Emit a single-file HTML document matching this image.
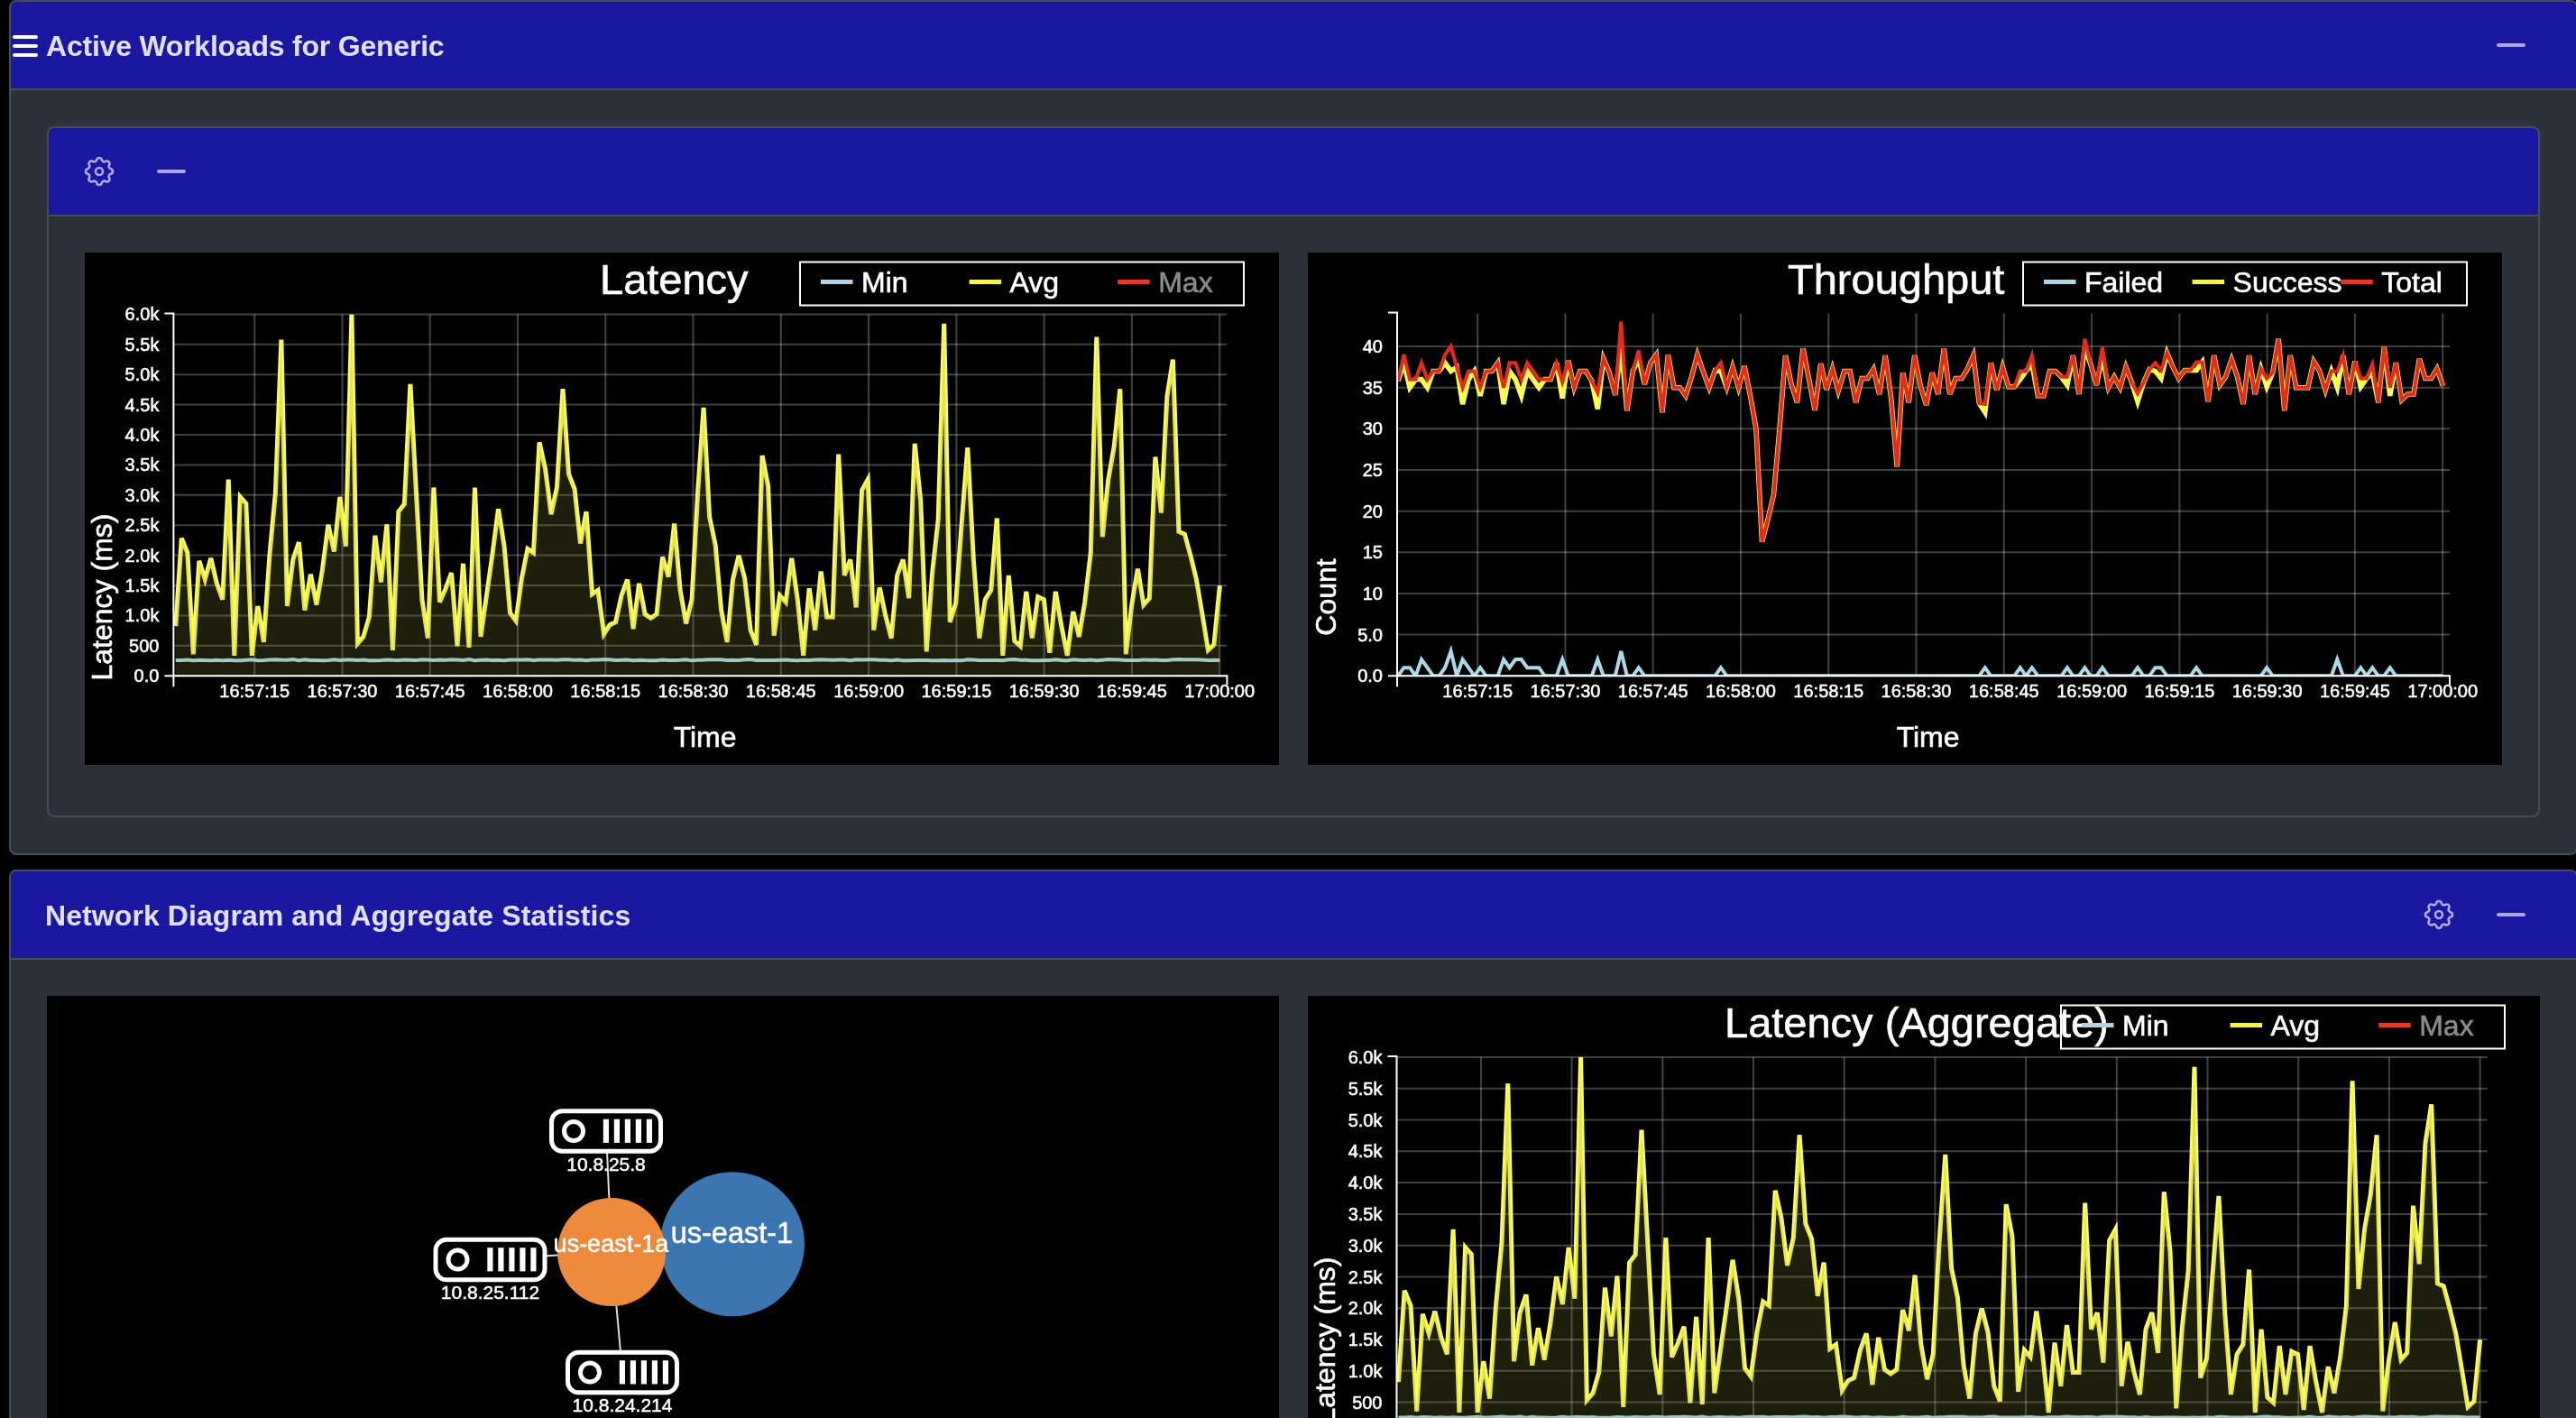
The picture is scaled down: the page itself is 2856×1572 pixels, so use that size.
<!DOCTYPE html>
<html><head><meta charset="utf-8"><style>
html,body{margin:0;padding:0;background:#000;width:2856px;height:1572px;overflow:hidden;font-family:"Liberation Sans",sans-serif}
#root{position:absolute;left:0;top:0;width:2856px;height:1572px;will-change:transform}
.abs{position:absolute}
.card{position:absolute;box-sizing:border-box;border:2px solid #454d58;border-radius:8px;background:#2c313a;overflow:hidden}
.hdr{position:absolute;left:0;right:0;top:0;height:98px;box-sizing:border-box;background:#1a18a0;border-bottom:2px solid #454d58}
.ttl{position:absolute;color:#e1dff6;font-weight:bold;font-size:32px;line-height:32px;white-space:nowrap}
.panel{position:absolute;overflow:hidden;background:#000}
</style></head><body><div id="root">
<div class="card" style="left:10px;top:0;width:2848px;height:948px">
  <div class="hdr"></div>
</div>
<div class="abs" style="left:14px;top:39px;width:28px;height:4px;border-radius:2px;background:#fff"></div>
<div class="abs" style="left:14px;top:49px;width:28px;height:4px;border-radius:2px;background:#fff"></div>
<div class="abs" style="left:14px;top:59px;width:28px;height:4px;border-radius:2px;background:#fff"></div>
<div class="ttl" style="left:51px;top:35px;letter-spacing:-0.22px">Active Workloads for Generic</div>
<div style="position:absolute;left:2768px;top:48px;width:32px;height:4px;border-radius:2px;background:#a9a7e2"></div>
<div class="card" style="left:52px;top:140px;width:2764px;height:766px">
  <div class="hdr"></div>
</div>
<svg style="position:absolute;left:90px;top:170px" width="40" height="40" viewBox="0 0 24 24"><path d="M10.325 4.317c.426-1.756 2.924-1.756 3.35 0a1.724 1.724 0 002.573 1.066c1.543-.94 3.31.826 2.37 2.37a1.724 1.724 0 001.065 2.572c1.756.426 1.756 2.924 0 3.35a1.724 1.724 0 00-1.066 2.573c.94 1.543-.826 3.31-2.37 2.37a1.724 1.724 0 00-2.572 1.065c-.426 1.756-2.924 1.756-3.35 0a1.724 1.724 0 00-2.573-1.066c-1.543.94-3.31-.826-2.37-2.37a1.724 1.724 0 00-1.065-2.572c-1.756-.426-1.756-2.924 0-3.35a1.724 1.724 0 001.066-2.573c-.94-1.543.826-3.31 2.37-2.37.996.608 2.296.07 2.572-1.065z" fill="none" stroke="#aeacde" stroke-width="1.55" stroke-linecap="round" stroke-linejoin="round"/><circle cx="12" cy="12" r="2.4" fill="none" stroke="#aeacde" stroke-width="1.55"/></svg>
<div style="position:absolute;left:174px;top:188px;width:32px;height:4px;border-radius:2px;background:#a9a7e2"></div>
<div class="panel" style="left:94px;top:280px;width:1324px;height:568px"><svg width="1324" height="568" viewBox="0 0 1324 568" style="position:absolute;left:0;top:0;display:block"><rect x="0" y="0" width="1324" height="568" fill="#000"/><g stroke="rgba(255,255,255,0.25)" stroke-width="2" fill="none"><path d="M98.4,469.2H1266.4"/><path d="M98.4,435.8H1266.4"/><path d="M98.4,402.4H1266.4"/><path d="M98.4,369H1266.4"/><path d="M98.4,335.6H1266.4"/><path d="M98.4,302.2H1266.4"/><path d="M98.4,268.8H1266.4"/><path d="M98.4,235.4H1266.4"/><path d="M98.4,202H1266.4"/><path d="M98.4,168.6H1266.4"/><path d="M98.4,135.2H1266.4"/><path d="M98.4,101.8H1266.4"/><path d="M98.4,68.4H1266.4"/><path d="M188.2,68.4V469.2"/><path d="M285.5,68.4V469.2"/><path d="M382.7,68.4V469.2"/><path d="M480,68.4V469.2"/><path d="M577.3,68.4V469.2"/><path d="M674.5,68.4V469.2"/><path d="M771.8,68.4V469.2"/><path d="M869.1,68.4V469.2"/><path d="M966.4,68.4V469.2"/><path d="M1063.6,68.4V469.2"/><path d="M1160.9,68.4V469.2"/><path d="M1258.2,68.4V469.2"/></g><clipPath id="clipLatency"><rect x="98.4" y="68.4" width="1168" height="400.8"/></clipPath><g clip-path="url(#clipLatency)"><path d="M100.8,451.9 L107.3,452.1 L113.8,451.5 L120.3,452.2 L126.8,451.7 L133.3,451.9 L139.8,452.2 L146.3,451.7 L152.8,452.3 L159.3,451.8 L165.8,452.2 L172.3,452.2 L178.8,451.8 L185.3,451.3 L191.8,452.2 L198.4,452 L204.9,451.5 L211.4,451.2 L217.9,451.6 L224.4,451.8 L230.9,451.1 L237.4,452.2 L243.9,451.3 L250.4,452 L256.9,452.1 L263.4,452.2 L269.9,451.9 L276.4,451.3 L282.9,452.1 L289.4,451.6 L295.9,451.5 L302.4,451.9 L308.9,451.6 L315.4,452.2 L321.9,452.2 L328.4,452.1 L334.9,451.5 L341.4,451.8 L347.9,451.9 L354.4,451.6 L360.9,451.8 L367.4,451.9 L373.9,451.3 L380.4,451.5 L386.9,452 L393.5,451.6 L400,451.7 L406.5,451.2 L413,451.4 L419.5,452 L426,451.1 L432.5,452.2 L439,451.8 L445.5,451.4 L452,452.1 L458.5,451.7 L465,452.3 L471.5,451.5 L478,451.4 L484.5,451.6 L491,451.2 L497.5,451.9 L504,451.5 L510.5,451.6 L517,451.6 L523.5,451.8 L530,451.3 L536.5,451.2 L543,451.7 L549.5,451.5 L556,452.2 L562.5,451.5 L569,451.5 L575.5,451.1 L582,451.3 L588.6,452 L595.1,451.8 L601.6,451.5 L608.1,452.3 L614.6,451.7 L621.1,452.1 L627.6,452.2 L634.1,452.2 L640.6,451.4 L647.1,452.1 L653.6,452 L660.1,451.8 L666.6,451.3 L673.1,452.2 L679.6,451.8 L686.1,451.6 L692.6,451.2 L699.1,451.3 L705.6,451.3 L712.1,452 L718.6,451.8 L725.1,451.9 L731.6,451.2 L738.1,451.1 L744.6,452.1 L751.1,452.1 L757.6,452 L764.1,452 L770.6,451.7 L777.2,451.6 L783.7,452 L790.2,452.3 L796.7,451.8 L803.2,451.9 L809.7,451.6 L816.2,451.2 L822.7,451.5 L829.2,451.7 L835.7,451.6 L842.2,451.5 L848.7,452.2 L855.2,451.2 L861.7,451.4 L868.2,451.2 L874.7,451.3 L881.2,451.8 L887.7,451.8 L894.2,452.2 L900.7,451.5 L907.2,452.2 L913.7,452.2 L920.2,452 L926.7,452.1 L933.2,451.9 L939.7,452.2 L946.2,452.3 L952.7,452.1 L959.2,452.2 L965.7,451.9 L972.3,452.3 L978.8,451.2 L985.3,451.6 L991.8,452.1 L998.3,452 L1004.8,451.9 L1011.3,451.9 L1017.8,452.2 L1024.3,451.3 L1030.8,451.1 L1037.3,451.7 L1043.8,451.7 L1050.3,452.2 L1056.8,452.2 L1063.3,451.9 L1069.8,452 L1076.3,451.3 L1082.8,452.1 L1089.3,452.3 L1095.8,451.2 L1102.3,451.7 L1108.8,452.1 L1115.3,451.6 L1121.8,452.3 L1128.3,451.7 L1134.8,451.1 L1141.3,451.3 L1147.8,451.5 L1154.3,452 L1160.8,451.9 L1167.4,452.1 L1173.9,451.4 L1180.4,451.7 L1186.9,451.4 L1193.4,451.9 L1199.9,452 L1206.4,451.3 L1212.9,451.1 L1219.4,451.3 L1225.9,451.3 L1232.4,451.3 L1238.9,451.4 L1245.4,452 L1251.9,451.7 L1258.4,451.9" stroke="#add8e6" stroke-width="4" fill="none" stroke-linejoin="miter" stroke-miterlimit="4"/><path d="M100.8,414.2 L107.3,316.7 L113.8,332.9 L120.3,445.3 L126.8,341.8 L133.3,362.5 L139.8,338.9 L146.3,366.9 L152.8,384.7 L159.3,251.6 L165.8,446.8 L172.3,270.9 L178.8,278.3 L185.3,446.8 L191.8,392 L198.4,431.9 L204.9,335.6 L211.4,266.5 L217.9,96.5 L224.4,392 L230.9,340.3 L237.4,321.1 L243.9,396.5 L250.4,356.6 L256.9,390.6 L263.4,352.2 L269.9,301.9 L276.4,331.5 L282.9,270.9 L289.4,325.6 L295.9,68.4 L302.4,433.5 L308.9,426 L315.4,403.9 L321.9,313.8 L328.4,365.5 L334.9,301.3 L341.4,440.8 L347.9,287.1 L354.4,278.8 L360.9,145.8 L367.4,265.3 L373.9,384.7 L380.4,427.5 L386.9,260.5 L393.5,387.6 L400,372.9 L406.5,355.1 L413,436.4 L419.5,344.8 L426,437.9 L432.5,260.5 L439,426 L445.5,380.2 L452,334.4 L458.5,284.2 L465,325.6 L471.5,399.5 L478,408.3 L484.5,361.1 L491,328.5 L497.5,332.9 L504,210.3 L510.5,239.8 L517,290.1 L523.5,260.5 L530,151.2 L536.5,245.8 L543,262 L549.5,322.6 L556,287.1 L562.5,378.8 L569,374.3 L575.5,423.1 L582,412.8 L588.6,409.8 L595.1,380.2 L601.6,362.5 L608.1,417.2 L614.6,366.9 L621.1,400.9 L627.6,405.3 L634.1,400.9 L640.6,337.4 L647.1,359.5 L653.6,300.4 L660.1,374.3 L666.6,411.3 L673.1,384.7 L679.6,266.5 L686.1,171.9 L692.6,293 L699.1,324 L705.6,396.5 L712.1,431.9 L718.6,362.5 L725.1,335.9 L731.6,361.1 L738.1,418.6 L744.6,434.9 L751.1,225 L757.6,259 L764.1,424.6 L770.6,380.2 L777.2,387.6 L783.7,338.9 L790.2,384.7 L796.7,446.8 L803.2,372.3 L809.7,418.6 L816.2,353.6 L822.7,403.9 L829.2,403.9 L835.7,223.6 L842.2,358 L848.7,340.3 L855.2,393.5 L861.7,263.5 L868.2,251.6 L874.7,418.6 L881.2,371.3 L887.7,402.4 L894.2,427.5 L900.7,358 L907.2,340.3 L913.7,383.2 L920.2,211.8 L926.7,275.3 L933.2,442.3 L939.7,355.1 L946.2,296 L952.7,78.8 L959.2,409.8 L965.7,389.1 L972.3,298.9 L978.8,216.2 L985.3,340.3 L991.8,427.5 L998.3,384.7 L1004.8,374.3 L1011.3,294.5 L1017.8,446.8 L1024.3,358 L1030.8,430.5 L1037.3,436.4 L1043.8,375.8 L1050.3,427.5 L1056.8,381.7 L1063.3,384.7 L1069.8,443.7 L1076.3,375.8 L1082.8,414.2 L1089.3,446.8 L1095.8,398 L1102.3,426 L1108.8,387.6 L1115.3,332.9 L1121.8,93.5 L1128.3,315.2 L1134.8,251.6 L1141.3,214.7 L1147.8,151.2 L1154.3,445.3 L1160.8,390.6 L1167.4,350.7 L1173.9,390.6 L1180.4,383.2 L1186.9,226.5 L1193.4,288.6 L1199.9,160 L1206.4,118.6 L1212.9,309.3 L1219.4,312.2 L1225.9,335.9 L1232.4,362.5 L1238.9,400.9 L1245.4,440.8 L1251.9,434.9 L1258.4,369.3" stroke="#fdfd58" stroke-width="5" fill="none" stroke-linejoin="miter" stroke-miterlimit="4"/><path d="M100.8,414.2 L107.3,316.7 L113.8,332.9 L120.3,445.3 L126.8,341.8 L133.3,362.5 L139.8,338.9 L146.3,366.9 L152.8,384.7 L159.3,251.6 L165.8,446.8 L172.3,270.9 L178.8,278.3 L185.3,446.8 L191.8,392 L198.4,431.9 L204.9,335.6 L211.4,266.5 L217.9,96.5 L224.4,392 L230.9,340.3 L237.4,321.1 L243.9,396.5 L250.4,356.6 L256.9,390.6 L263.4,352.2 L269.9,301.9 L276.4,331.5 L282.9,270.9 L289.4,325.6 L295.9,68.4 L302.4,433.5 L308.9,426 L315.4,403.9 L321.9,313.8 L328.4,365.5 L334.9,301.3 L341.4,440.8 L347.9,287.1 L354.4,278.8 L360.9,145.8 L367.4,265.3 L373.9,384.7 L380.4,427.5 L386.9,260.5 L393.5,387.6 L400,372.9 L406.5,355.1 L413,436.4 L419.5,344.8 L426,437.9 L432.5,260.5 L439,426 L445.5,380.2 L452,334.4 L458.5,284.2 L465,325.6 L471.5,399.5 L478,408.3 L484.5,361.1 L491,328.5 L497.5,332.9 L504,210.3 L510.5,239.8 L517,290.1 L523.5,260.5 L530,151.2 L536.5,245.8 L543,262 L549.5,322.6 L556,287.1 L562.5,378.8 L569,374.3 L575.5,423.1 L582,412.8 L588.6,409.8 L595.1,380.2 L601.6,362.5 L608.1,417.2 L614.6,366.9 L621.1,400.9 L627.6,405.3 L634.1,400.9 L640.6,337.4 L647.1,359.5 L653.6,300.4 L660.1,374.3 L666.6,411.3 L673.1,384.7 L679.6,266.5 L686.1,171.9 L692.6,293 L699.1,324 L705.6,396.5 L712.1,431.9 L718.6,362.5 L725.1,335.9 L731.6,361.1 L738.1,418.6 L744.6,434.9 L751.1,225 L757.6,259 L764.1,424.6 L770.6,380.2 L777.2,387.6 L783.7,338.9 L790.2,384.7 L796.7,446.8 L803.2,372.3 L809.7,418.6 L816.2,353.6 L822.7,403.9 L829.2,403.9 L835.7,223.6 L842.2,358 L848.7,340.3 L855.2,393.5 L861.7,263.5 L868.2,251.6 L874.7,418.6 L881.2,371.3 L887.7,402.4 L894.2,427.5 L900.7,358 L907.2,340.3 L913.7,383.2 L920.2,211.8 L926.7,275.3 L933.2,442.3 L939.7,355.1 L946.2,296 L952.7,78.8 L959.2,409.8 L965.7,389.1 L972.3,298.9 L978.8,216.2 L985.3,340.3 L991.8,427.5 L998.3,384.7 L1004.8,374.3 L1011.3,294.5 L1017.8,446.8 L1024.3,358 L1030.8,430.5 L1037.3,436.4 L1043.8,375.8 L1050.3,427.5 L1056.8,381.7 L1063.3,384.7 L1069.8,443.7 L1076.3,375.8 L1082.8,414.2 L1089.3,446.8 L1095.8,398 L1102.3,426 L1108.8,387.6 L1115.3,332.9 L1121.8,93.5 L1128.3,315.2 L1134.8,251.6 L1141.3,214.7 L1147.8,151.2 L1154.3,445.3 L1160.8,390.6 L1167.4,350.7 L1173.9,390.6 L1180.4,383.2 L1186.9,226.5 L1193.4,288.6 L1199.9,160 L1206.4,118.6 L1212.9,309.3 L1219.4,312.2 L1225.9,335.9 L1232.4,362.5 L1238.9,400.9 L1245.4,440.8 L1251.9,434.9 L1258.4,369.3 L1258.4,469.2 L100.8,469.2 Z" fill="rgba(139,139,60,0.216)" stroke="none"/></g><path d="M88.4,67.4H98.4V469.2H1266.4V479.2" stroke="#fff" stroke-width="2" fill="none"/><path d="M98.4,469.2V481.2M88.4,469.2H98.4" stroke="#fff" stroke-width="2" fill="none"/><g fill="#fff" stroke="#fff" stroke-width="0.55" font-family="Liberation Sans" font-size="20"><text x="82.4" y="476.2" text-anchor="end">0.0</text><text x="82.4" y="442.8" text-anchor="end">500</text><text x="82.4" y="409.4" text-anchor="end">1.0k</text><text x="82.4" y="376" text-anchor="end">1.5k</text><text x="82.4" y="342.6" text-anchor="end">2.0k</text><text x="82.4" y="309.2" text-anchor="end">2.5k</text><text x="82.4" y="275.8" text-anchor="end">3.0k</text><text x="82.4" y="242.4" text-anchor="end">3.5k</text><text x="82.4" y="209" text-anchor="end">4.0k</text><text x="82.4" y="175.6" text-anchor="end">4.5k</text><text x="82.4" y="142.2" text-anchor="end">5.0k</text><text x="82.4" y="108.8" text-anchor="end">5.5k</text><text x="82.4" y="75.4" text-anchor="end">6.0k</text><text x="188.2" y="493.2" text-anchor="middle">16:57:15</text><text x="285.5" y="493.2" text-anchor="middle">16:57:30</text><text x="382.7" y="493.2" text-anchor="middle">16:57:45</text><text x="480" y="493.2" text-anchor="middle">16:58:00</text><text x="577.3" y="493.2" text-anchor="middle">16:58:15</text><text x="674.5" y="493.2" text-anchor="middle">16:58:30</text><text x="771.8" y="493.2" text-anchor="middle">16:58:45</text><text x="869.1" y="493.2" text-anchor="middle">16:59:00</text><text x="966.4" y="493.2" text-anchor="middle">16:59:15</text><text x="1063.6" y="493.2" text-anchor="middle">16:59:30</text><text x="1160.9" y="493.2" text-anchor="middle">16:59:45</text><text x="1258.2" y="493.2" text-anchor="middle">17:00:00</text></g><text x="571" y="45.5" fill="#fff" stroke="#fff" stroke-width="0.6" font-family="Liberation Sans" font-size="47">Latency</text><rect x="793" y="10.5" width="492" height="48" fill="none" stroke="#fff" stroke-width="2"/><rect x="816" y="30" width="35.5" height="5" fill="#b3d3e0"/><text x="861" y="44" fill="#fff" stroke="#fff" stroke-width="0.6" font-family="Liberation Sans" font-size="32">Min</text><rect x="980.6" y="30" width="35.5" height="5" fill="#f7f24e"/><text x="1025.6" y="44" fill="#fff" stroke="#fff" stroke-width="0.6" font-family="Liberation Sans" font-size="32">Avg</text><rect x="1145.2" y="30" width="35.5" height="5" fill="#e5372a"/><text x="1190.2" y="44" fill="#8a8a8a" stroke="#8a8a8a" stroke-width="0.6" font-family="Liberation Sans" font-size="32">Max</text><text transform="translate(30,382) rotate(-90)" text-anchor="middle" fill="#fff" stroke="#fff" stroke-width="0.6" font-family="Liberation Sans" font-size="32">Latency (ms)</text><text x="687.6" y="548" text-anchor="middle" fill="#fff" stroke="#fff" stroke-width="0.6" font-family="Liberation Sans" font-size="32">Time</text></svg></div>
<div class="panel" style="left:1450px;top:280px;width:1324px;height:568px"><svg width="1324" height="568" viewBox="0 0 1324 568" style="position:absolute;left:0;top:0;display:block"><rect x="0" y="0" width="1324" height="568" fill="#000"/><g stroke="rgba(255,255,255,0.25)" stroke-width="2" fill="none"><path d="M99,469.3H1266"/><path d="M99,423.6H1266"/><path d="M99,378H1266"/><path d="M99,332.3H1266"/><path d="M99,286.7H1266"/><path d="M99,241H1266"/><path d="M99,195.3H1266"/><path d="M99,149.7H1266"/><path d="M99,104H1266"/><path d="M188.2,67.5V469.3"/><path d="M285.5,67.5V469.3"/><path d="M382.7,67.5V469.3"/><path d="M480,67.5V469.3"/><path d="M577.3,67.5V469.3"/><path d="M674.5,67.5V469.3"/><path d="M771.8,67.5V469.3"/><path d="M869.1,67.5V469.3"/><path d="M966.4,67.5V469.3"/><path d="M1063.6,67.5V469.3"/><path d="M1160.9,67.5V469.3"/><path d="M1258.2,67.5V469.3"/></g><clipPath id="clipThroughput"><rect x="99" y="67.5" width="1167" height="401.8"/></clipPath><g clip-path="url(#clipThroughput)"><path d="M100,469.3 L106.5,460.2 L113,460.2 L119.5,469.3 L126,451 L132.5,460.2 L139,469.3 L145.6,469.3 L152.1,460.2 L158.6,441.9 L165.1,469.3 L171.6,451 L178.1,460.2 L184.6,469.3 L191.1,460.2 L197.6,469.3 L204.1,469.3 L210.6,469.3 L217.1,451 L223.6,460.2 L230.2,451 L236.7,451 L243.2,460.2 L249.7,460.2 L256.2,460.2 L262.7,469.3 L269.2,469.3 L275.7,469.3 L282.2,451 L288.7,469.3 L295.2,469.3 L301.7,469.3 L308.3,469.3 L314.8,469.3 L321.3,451 L327.8,469.3 L334.3,469.3 L340.8,469.3 L347.3,441.9 L353.8,469.3 L360.3,469.3 L366.8,460.2 L373.3,469.3 L379.8,469.3 L386.3,469.3 L392.9,469.3 L399.4,469.3 L405.9,469.3 L412.4,469.3 L418.9,469.3 L425.4,469.3 L431.9,469.3 L438.4,469.3 L444.9,469.3 L451.4,469.3 L457.9,460.2 L464.4,469.3 L470.9,469.3 L477.5,469.3 L484,469.3 L490.5,469.3 L497,469.3 L503.5,469.3 L510,469.3 L516.5,469.3 L523,469.3 L529.5,469.3 L536,469.3 L542.5,469.3 L549,469.3 L555.6,469.3 L562.1,469.3 L568.6,469.3 L575.1,469.3 L581.6,469.3 L588.1,469.3 L594.6,469.3 L601.1,469.3 L607.6,469.3 L614.1,469.3 L620.6,469.3 L627.1,469.3 L633.6,469.3 L640.2,469.3 L646.7,469.3 L653.2,469.3 L659.7,469.3 L666.2,469.3 L672.7,469.3 L679.2,469.3 L685.7,469.3 L692.2,469.3 L698.7,469.3 L705.2,469.3 L711.7,469.3 L718.2,469.3 L724.8,469.3 L731.3,469.3 L737.8,469.3 L744.3,469.3 L750.8,460.2 L757.3,469.3 L763.8,469.3 L770.3,469.3 L776.8,469.3 L783.3,469.3 L789.8,460.2 L796.3,469.3 L802.8,460.2 L809.4,469.3 L815.9,469.3 L822.4,469.3 L828.9,469.3 L835.4,469.3 L841.9,460.2 L848.4,469.3 L854.9,469.3 L861.4,460.2 L867.9,469.3 L874.4,469.3 L880.9,460.2 L887.5,469.3 L894,469.3 L900.5,469.3 L907,469.3 L913.5,469.3 L920,460.2 L926.5,469.3 L933,469.3 L939.5,460.2 L946,460.2 L952.5,469.3 L959,469.3 L965.5,469.3 L972.1,469.3 L978.6,469.3 L985.1,460.2 L991.6,469.3 L998.1,469.3 L1004.6,469.3 L1011.1,469.3 L1017.6,469.3 L1024.1,469.3 L1030.6,469.3 L1037.1,469.3 L1043.6,469.3 L1050.1,469.3 L1056.7,469.3 L1063.2,460.2 L1069.7,469.3 L1076.2,469.3 L1082.7,469.3 L1089.2,469.3 L1095.7,469.3 L1102.2,469.3 L1108.7,469.3 L1115.2,469.3 L1121.7,469.3 L1128.2,469.3 L1134.8,469.3 L1141.3,451 L1147.8,469.3 L1154.3,469.3 L1160.8,469.3 L1167.3,460.2 L1173.8,469.3 L1180.3,460.2 L1186.8,469.3 L1193.3,469.3 L1199.8,460.2 L1206.3,469.3 L1212.8,469.3 L1219.4,469.3 L1225.9,469.3 L1232.4,469.3 L1238.9,469.3 L1245.4,469.3 L1251.9,469.3 L1258.4,469.3" stroke="#add8e6" stroke-width="4" fill="none" stroke-linejoin="miter" stroke-miterlimit="4"/><path d="M100,142.4 L106.5,122.3 L113,149.7 L119.5,140.6 L126,140.6 L132.5,149.7 L139,131.4 L145.6,131.4 L152.1,122.3 L158.6,131.4 L165.1,126.9 L171.6,168 L178.1,140.6 L184.6,131.4 L191.1,158.8 L197.6,131.4 L204.1,131.4 L210.6,122.3 L217.1,168 L223.6,131.4 L230.2,140.6 L236.7,158.8 L243.2,131.4 L249.7,140.6 L256.2,149.7 L262.7,140.6 L269.2,140.6 L275.7,122.3 L282.2,161.6 L288.7,119.6 L295.2,149.7 L301.7,131.4 L308.3,131.4 L314.8,142.4 L321.3,173.4 L327.8,117.7 L334.3,133.2 L340.8,157.9 L347.3,104 L353.8,175.3 L360.3,131.4 L366.8,117.7 L373.3,146 L379.8,122.3 L386.3,113.2 L392.9,177.1 L399.4,113.2 L405.9,149.7 L412.4,149.7 L418.9,158.8 L425.4,137.8 L431.9,113.2 L438.4,132.3 L444.9,149.7 L451.4,130.5 L457.9,131.4 L464.4,149.7 L470.9,126.9 L477.5,149.7 L484,125.9 L490.5,158.8 L497,195.3 L503.5,320.5 L510,295.8 L516.5,268.4 L523,195.3 L529.5,114.1 L536,146 L542.5,166.1 L549,106.3 L555.6,140.6 L562.1,174.8 L568.6,123.2 L575.1,152 L581.6,129.1 L588.1,153.3 L594.6,131.4 L601.1,131.4 L607.6,166.1 L614.1,139.6 L620.6,139.6 L627.1,129.1 L633.6,157 L640.2,114.1 L646.7,161.6 L653.2,237.4 L659.7,133.2 L666.2,166.1 L672.7,114.1 L679.2,147.9 L685.7,168.9 L692.2,133.2 L698.7,157 L705.2,106.3 L711.7,157 L718.2,139.6 L724.8,139.6 L731.3,129.1 L737.8,114.1 L744.3,167 L750.8,177.1 L757.3,122.3 L763.8,152.4 L770.3,126.9 L776.8,148.8 L783.3,148.8 L789.8,140.6 L796.3,131.4 L802.8,123.2 L809.4,158.8 L815.9,158.8 L822.4,131.4 L828.9,131.4 L835.4,137.8 L841.9,146.9 L848.4,114.1 L854.9,157 L861.4,104.9 L867.9,124.1 L874.4,146.9 L880.9,114.1 L887.5,149.7 L894,137.8 L900.5,149.7 L907,126.9 L913.5,144.2 L920,165.2 L926.5,144.2 L933,129.6 L939.5,131.4 L946,139.6 L952.5,111.3 L959,126.9 L965.5,139.6 L972.1,130.5 L978.6,130.5 L985.1,130.5 L991.6,121.4 L998.1,165.2 L1004.6,114.1 L1011.1,146.9 L1017.6,137.8 L1024.1,118.6 L1030.6,137.8 L1037.1,168 L1043.6,114.1 L1050.1,157 L1056.7,128.7 L1063.2,148.8 L1069.7,133.2 L1076.2,95.8 L1082.7,175.3 L1089.2,114.1 L1095.7,149.7 L1102.2,149.7 L1108.7,149.7 L1115.2,120.5 L1121.7,131.4 L1128.2,152.4 L1134.8,131.4 L1141.3,149.7 L1147.8,114.1 L1154.3,157 L1160.8,120.5 L1167.3,148.8 L1173.8,139.6 L1180.3,133.2 L1186.8,166.1 L1193.3,104.9 L1199.8,158.8 L1206.3,122.3 L1212.8,163.4 L1219.4,157 L1225.9,157 L1232.4,117.7 L1238.9,139.6 L1245.4,139.6 L1251.9,128.7 L1258.4,147.9" stroke="#fdfd50" stroke-width="5.5" fill="none" stroke-linejoin="miter" stroke-miterlimit="4"/><path d="M100,142.4 L106.5,113.2 L113,140.6 L119.5,140.6 L126,122.3 L132.5,140.6 L139,131.4 L145.6,131.4 L152.1,113.2 L158.6,104 L165.1,126.9 L171.6,149.7 L178.1,131.4 L184.6,131.4 L191.1,149.7 L197.6,131.4 L204.1,131.4 L210.6,122.3 L217.1,149.7 L223.6,122.3 L230.2,122.3 L236.7,140.6 L243.2,122.3 L249.7,131.4 L256.2,140.6 L262.7,140.6 L269.2,140.6 L275.7,122.3 L282.2,143.3 L288.7,119.6 L295.2,149.7 L301.7,131.4 L308.3,131.4 L314.8,142.4 L321.3,155.2 L327.8,117.7 L334.3,133.2 L340.8,157.9 L347.3,76.6 L353.8,175.3 L360.3,131.4 L366.8,108.6 L373.3,146 L379.8,122.3 L386.3,113.2 L392.9,177.1 L399.4,113.2 L405.9,149.7 L412.4,149.7 L418.9,158.8 L425.4,137.8 L431.9,113.2 L438.4,132.3 L444.9,149.7 L451.4,130.5 L457.9,122.3 L464.4,149.7 L470.9,126.9 L477.5,149.7 L484,125.9 L490.5,158.8 L497,195.3 L503.5,320.5 L510,295.8 L516.5,268.4 L523,195.3 L529.5,114.1 L536,146 L542.5,166.1 L549,106.3 L555.6,140.6 L562.1,174.8 L568.6,123.2 L575.1,152 L581.6,129.1 L588.1,153.3 L594.6,131.4 L601.1,131.4 L607.6,166.1 L614.1,139.6 L620.6,139.6 L627.1,129.1 L633.6,157 L640.2,114.1 L646.7,161.6 L653.2,237.4 L659.7,133.2 L666.2,166.1 L672.7,114.1 L679.2,147.9 L685.7,168.9 L692.2,133.2 L698.7,157 L705.2,106.3 L711.7,157 L718.2,139.6 L724.8,139.6 L731.3,129.1 L737.8,114.1 L744.3,167 L750.8,168 L757.3,122.3 L763.8,152.4 L770.3,126.9 L776.8,148.8 L783.3,148.8 L789.8,131.4 L796.3,131.4 L802.8,114.1 L809.4,158.8 L815.9,158.8 L822.4,131.4 L828.9,131.4 L835.4,137.8 L841.9,137.8 L848.4,114.1 L854.9,157 L861.4,95.8 L867.9,124.1 L874.4,146.9 L880.9,104.9 L887.5,149.7 L894,137.8 L900.5,149.7 L907,126.9 L913.5,144.2 L920,156.1 L926.5,144.2 L933,129.6 L939.5,122.3 L946,130.5 L952.5,111.3 L959,126.9 L965.5,139.6 L972.1,130.5 L978.6,130.5 L985.1,121.4 L991.6,121.4 L998.1,165.2 L1004.6,114.1 L1011.1,146.9 L1017.6,137.8 L1024.1,118.6 L1030.6,137.8 L1037.1,168 L1043.6,114.1 L1050.1,157 L1056.7,128.7 L1063.2,139.6 L1069.7,133.2 L1076.2,95.8 L1082.7,175.3 L1089.2,114.1 L1095.7,149.7 L1102.2,149.7 L1108.7,149.7 L1115.2,120.5 L1121.7,131.4 L1128.2,152.4 L1134.8,131.4 L1141.3,131.4 L1147.8,114.1 L1154.3,157 L1160.8,120.5 L1167.3,139.6 L1173.8,139.6 L1180.3,124.1 L1186.8,166.1 L1193.3,104.9 L1199.8,149.7 L1206.3,122.3 L1212.8,163.4 L1219.4,157 L1225.9,157 L1232.4,117.7 L1238.9,139.6 L1245.4,139.6 L1251.9,128.7 L1258.4,147.9" stroke="#e62a1e" stroke-width="4" fill="none" stroke-linejoin="miter" stroke-miterlimit="4"/></g><path d="M89,66.5H99V469.3H1266V479.3" stroke="#fff" stroke-width="2" fill="none"/><path d="M99,469.3V481.3M89,469.3H99" stroke="#fff" stroke-width="2" fill="none"/><g fill="#fff" stroke="#fff" stroke-width="0.55" font-family="Liberation Sans" font-size="20"><text x="83" y="476.3" text-anchor="end">0.0</text><text x="83" y="430.6" text-anchor="end">5.0</text><text x="83" y="385" text-anchor="end">10</text><text x="83" y="339.3" text-anchor="end">15</text><text x="83" y="293.7" text-anchor="end">20</text><text x="83" y="248" text-anchor="end">25</text><text x="83" y="202.3" text-anchor="end">30</text><text x="83" y="156.7" text-anchor="end">35</text><text x="83" y="111" text-anchor="end">40</text><text x="188.2" y="493.3" text-anchor="middle">16:57:15</text><text x="285.5" y="493.3" text-anchor="middle">16:57:30</text><text x="382.7" y="493.3" text-anchor="middle">16:57:45</text><text x="480" y="493.3" text-anchor="middle">16:58:00</text><text x="577.3" y="493.3" text-anchor="middle">16:58:15</text><text x="674.5" y="493.3" text-anchor="middle">16:58:30</text><text x="771.8" y="493.3" text-anchor="middle">16:58:45</text><text x="869.1" y="493.3" text-anchor="middle">16:59:00</text><text x="966.4" y="493.3" text-anchor="middle">16:59:15</text><text x="1063.6" y="493.3" text-anchor="middle">16:59:30</text><text x="1160.9" y="493.3" text-anchor="middle">16:59:45</text><text x="1258.2" y="493.3" text-anchor="middle">17:00:00</text></g><text x="532" y="45.5" fill="#fff" stroke="#fff" stroke-width="0.6" font-family="Liberation Sans" font-size="47">Throughput</text><rect x="793" y="10.5" width="492" height="48" fill="none" stroke="#fff" stroke-width="2"/><rect x="816" y="30" width="35.5" height="5" fill="#b3d3e0"/><text x="861" y="44" fill="#fff" stroke="#fff" stroke-width="0.6" font-family="Liberation Sans" font-size="32">Failed</text><rect x="980.6" y="30" width="35.5" height="5" fill="#f7f24e"/><text x="1025.6" y="44" fill="#fff" stroke="#fff" stroke-width="0.6" font-family="Liberation Sans" font-size="32">Success</text><rect x="1145.2" y="30" width="35.5" height="5" fill="#e5372a"/><text x="1190.2" y="44" fill="#fff" stroke="#fff" stroke-width="0.6" font-family="Liberation Sans" font-size="32">Total</text><text transform="translate(31,382) rotate(-90)" text-anchor="middle" fill="#fff" stroke="#fff" stroke-width="0.6" font-family="Liberation Sans" font-size="32">Count</text><text x="687.6" y="548" text-anchor="middle" fill="#fff" stroke="#fff" stroke-width="0.6" font-family="Liberation Sans" font-size="32">Time</text></svg></div>

<div class="card" style="left:10px;top:964px;width:2848px;height:800px">
  <div class="hdr"></div>
</div>
<div class="ttl" style="left:50px;top:999px;letter-spacing:0.08px">Network Diagram and Aggregate Statistics</div>
<svg style="position:absolute;left:2684px;top:994px" width="40" height="40" viewBox="0 0 24 24"><path d="M10.325 4.317c.426-1.756 2.924-1.756 3.35 0a1.724 1.724 0 002.573 1.066c1.543-.94 3.31.826 2.37 2.37a1.724 1.724 0 001.065 2.572c1.756.426 1.756 2.924 0 3.35a1.724 1.724 0 00-1.066 2.573c.94 1.543-.826 3.31-2.37 2.37a1.724 1.724 0 00-2.572 1.065c-.426 1.756-2.924 1.756-3.35 0a1.724 1.724 0 00-2.573-1.066c-1.543.94-3.31-.826-2.37-2.37a1.724 1.724 0 00-1.065-2.572c-1.756-.426-1.756-2.924 0-3.35a1.724 1.724 0 001.066-2.573c-.94-1.543.826-3.31 2.37-2.37.996.608 2.296.07 2.572-1.065z" fill="none" stroke="#aeacde" stroke-width="1.55" stroke-linecap="round" stroke-linejoin="round"/><circle cx="12" cy="12" r="2.4" fill="none" stroke="#aeacde" stroke-width="1.55"/></svg>
<div style="position:absolute;left:2768px;top:1012px;width:32px;height:4px;border-radius:2px;background:#a9a7e2"></div>
<div class="panel" style="left:52px;top:1104px;width:1366px;height:468px"><svg width="1366" height="468" style="position:absolute;left:0;top:0" viewBox="52 1104 1366 468"><rect x="52" y="1104" width="1366" height="468" fill="#000"/><path d="M672,1254L678,1388M543,1396L678,1388M690,1521L678,1388" stroke="#ddd" stroke-width="2" fill="none"/><rect x="611.5" y="1231.8" width="121" height="44.5" rx="12" fill="#000" stroke="#fff" stroke-width="5"/><circle cx="636" cy="1254" r="10.5" fill="none" stroke="#fff" stroke-width="5"/><rect x="668.8" y="1240.7" width="6.2" height="26.2" fill="#fff"/><rect x="680.8" y="1240.7" width="6.2" height="26.2" fill="#fff"/><rect x="692.8" y="1240.7" width="6.2" height="26.2" fill="#fff"/><rect x="704.8" y="1240.7" width="6.2" height="26.2" fill="#fff"/><rect x="716.8" y="1240.7" width="6.2" height="26.2" fill="#fff"/><text x="672" y="1297.5" text-anchor="middle" fill="#fff" stroke="#fff" stroke-width="0.5" font-family="Liberation Sans" font-size="21">10.8.25.8</text><rect x="483" y="1374.2" width="121" height="44.5" rx="12" fill="#000" stroke="#fff" stroke-width="5"/><circle cx="507.5" cy="1396.5" r="10.5" fill="none" stroke="#fff" stroke-width="5"/><rect x="540.3" y="1383.2" width="6.2" height="26.2" fill="#fff"/><rect x="552.3" y="1383.2" width="6.2" height="26.2" fill="#fff"/><rect x="564.3" y="1383.2" width="6.2" height="26.2" fill="#fff"/><rect x="576.3" y="1383.2" width="6.2" height="26.2" fill="#fff"/><rect x="588.3" y="1383.2" width="6.2" height="26.2" fill="#fff"/><text x="543.5" y="1440" text-anchor="middle" fill="#fff" stroke="#fff" stroke-width="0.5" font-family="Liberation Sans" font-size="21">10.8.25.112</text><rect x="629.5" y="1499.2" width="121" height="44.5" rx="12" fill="#000" stroke="#fff" stroke-width="5"/><circle cx="654" cy="1521.5" r="10.5" fill="none" stroke="#fff" stroke-width="5"/><rect x="686.8" y="1508.2" width="6.2" height="26.2" fill="#fff"/><rect x="698.8" y="1508.2" width="6.2" height="26.2" fill="#fff"/><rect x="710.8" y="1508.2" width="6.2" height="26.2" fill="#fff"/><rect x="722.8" y="1508.2" width="6.2" height="26.2" fill="#fff"/><rect x="734.8" y="1508.2" width="6.2" height="26.2" fill="#fff"/><text x="690" y="1565" text-anchor="middle" fill="#fff" stroke="#fff" stroke-width="0.5" font-family="Liberation Sans" font-size="21">10.8.24.214</text><circle cx="812" cy="1379.2" r="80" fill="#3b76b1"/><circle cx="678" cy="1388" r="60" fill="#ee8a3b"/><text x="677.4" y="1387.6" text-anchor="middle" fill="#fff" stroke="#fff" stroke-width="0.5" font-family="Liberation Sans" font-size="27">us-east-1a</text><text x="811.4" y="1378.4" text-anchor="middle" fill="#fff" stroke="#fff" stroke-width="0.5" font-family="Liberation Sans" font-size="32.5">us-east-1</text></svg></div>
<div class="panel" style="left:1450px;top:1104px;width:1366px;height:468px"><svg width="1366" height="468" viewBox="0 0 1366 468" style="position:absolute;left:0;top:0;display:block"><rect x="0" y="0" width="1366" height="468" fill="#000"/><g stroke="rgba(255,255,255,0.25)" stroke-width="2" fill="none"><path d="M98.5,485.4H1307.7"/><path d="M98.5,450.6H1307.7"/><path d="M98.5,415.8H1307.7"/><path d="M98.5,381H1307.7"/><path d="M98.5,346.3H1307.7"/><path d="M98.5,311.5H1307.7"/><path d="M98.5,276.7H1307.7"/><path d="M98.5,241.9H1307.7"/><path d="M98.5,207.1H1307.7"/><path d="M98.5,172.3H1307.7"/><path d="M98.5,137.6H1307.7"/><path d="M98.5,102.8H1307.7"/><path d="M98.5,68H1307.7"/><path d="M191.9,68V485.4"/><path d="M292.6,68V485.4"/><path d="M393.3,68V485.4"/><path d="M494,68V485.4"/><path d="M594.7,68V485.4"/><path d="M695.4,68V485.4"/><path d="M796.1,68V485.4"/><path d="M896.8,68V485.4"/><path d="M997.5,68V485.4"/><path d="M1098.2,68V485.4"/><path d="M1198.9,68V485.4"/><path d="M1299.6,68V485.4"/></g><clipPath id="clipLatencyAggregate"><rect x="98.5" y="68" width="1209.2" height="417.4"/></clipPath><g clip-path="url(#clipLatencyAggregate)"><path d="M100.5,467.4 L107.2,467.6 L114,467 L120.7,467.7 L127.4,467.1 L134.2,467.3 L140.9,467.7 L147.7,467.2 L154.4,467.8 L161.1,467.3 L167.9,467.7 L174.6,467.7 L181.3,467.3 L188.1,466.8 L194.8,467.6 L201.5,467.5 L208.3,467 L215,466.6 L221.8,467.1 L228.5,467.3 L235.2,466.6 L242,467.7 L248.7,466.7 L255.4,467.4 L262.2,467.6 L268.9,467.7 L275.6,467.4 L282.4,466.8 L289.1,467.6 L295.9,467.1 L302.6,467 L309.3,467.3 L316.1,467.1 L322.8,467.7 L329.5,467.7 L336.3,467.5 L343,466.9 L349.8,467.3 L356.5,467.4 L363.2,467.1 L370,467.2 L376.7,467.4 L383.4,466.8 L390.2,466.9 L396.9,467.5 L403.6,467.1 L410.4,467.1 L417.1,466.7 L423.9,466.9 L430.6,467.4 L437.3,466.6 L444.1,467.7 L450.8,467.3 L457.5,466.9 L464.3,467.6 L471,467.2 L477.7,467.8 L484.5,467 L491.2,466.8 L498,467.1 L504.7,466.7 L511.4,467.4 L518.2,466.9 L524.9,467.1 L531.6,467.1 L538.4,467.2 L545.1,466.7 L551.8,466.6 L558.6,467.2 L565.3,467 L572.1,467.7 L578.8,466.9 L585.5,467 L592.3,466.6 L599,466.8 L605.7,467.4 L612.5,467.3 L619.2,467 L625.9,467.8 L632.7,467.2 L639.4,467.6 L646.2,467.7 L652.9,467.7 L659.6,466.8 L666.4,467.6 L673.1,467.5 L679.8,467.3 L686.6,466.7 L693.3,467.7 L700,467.2 L706.8,467.1 L713.5,466.7 L720.3,466.8 L727,466.7 L733.7,467.5 L740.5,467.3 L747.2,467.4 L753.9,466.7 L760.7,466.6 L767.4,467.6 L774.2,467.6 L780.9,467.5 L787.6,467.5 L794.4,467.2 L801.1,467.1 L807.8,467.5 L814.6,467.8 L821.3,467.3 L828,467.3 L834.8,467.1 L841.5,466.6 L848.3,466.9 L855,467.2 L861.7,467 L868.5,467 L875.2,467.7 L881.9,466.7 L888.7,466.8 L895.4,466.7 L902.1,466.8 L908.9,467.3 L915.6,467.3 L922.4,467.7 L929.1,467 L935.8,467.7 L942.6,467.7 L949.3,467.5 L956,467.6 L962.8,467.4 L969.5,467.7 L976.2,467.8 L983,467.6 L989.7,467.7 L996.5,467.3 L1003.2,467.8 L1009.9,466.7 L1016.7,467 L1023.4,467.6 L1030.1,467.5 L1036.9,467.4 L1043.6,467.3 L1050.3,467.6 L1057.1,466.7 L1063.8,466.6 L1070.6,467.2 L1077.3,467.2 L1084,467.7 L1090.8,467.7 L1097.5,467.4 L1104.2,467.5 L1111,466.8 L1117.7,467.6 L1124.5,467.8 L1131.2,466.6 L1137.9,467.1 L1144.7,467.6 L1151.4,467.1 L1158.1,467.8 L1164.9,467.1 L1171.6,466.6 L1178.3,466.7 L1185.1,466.9 L1191.8,467.5 L1198.6,467.3 L1205.3,467.6 L1212,466.8 L1218.8,467.1 L1225.5,466.8 L1232.2,467.4 L1239,467.5 L1245.7,466.8 L1252.4,466.6 L1259.2,466.7 L1265.9,466.8 L1272.7,466.8 L1279.4,466.9 L1286.1,467.5 L1292.9,467.2 L1299.6,467.4" stroke="#add8e6" stroke-width="4" fill="none" stroke-linejoin="miter" stroke-miterlimit="4"/><path d="M100.5,428.1 L107.2,326.6 L114,343.5 L120.7,460.5 L127.4,352.7 L134.2,374.3 L140.9,349.7 L147.7,378.9 L154.4,397.4 L161.1,258.8 L167.9,462 L174.6,278.9 L181.3,286.6 L188.1,462 L194.8,405.1 L201.5,446.6 L208.3,346.3 L215,274.3 L221.8,97.2 L228.5,405.1 L235.2,351.2 L242,331.2 L248.7,409.7 L255.4,368.1 L262.2,403.5 L268.9,363.5 L275.6,311.2 L282.4,342 L289.1,278.9 L295.9,335.8 L302.6,68 L309.3,448.2 L316.1,440.5 L322.8,417.4 L329.5,323.5 L336.3,377.4 L343,310.6 L349.8,455.8 L356.5,295.8 L363.2,287.1 L370,148.6 L376.7,273 L383.4,397.4 L390.2,442 L396.9,268.1 L403.6,400.5 L410.4,385.1 L417.1,366.6 L423.9,451.2 L430.6,355.8 L437.3,452.8 L444.1,268.1 L450.8,440.5 L457.5,392.7 L464.3,345 L471,292.7 L477.7,335.8 L484.5,412.8 L491.2,422 L498,372.8 L504.7,338.9 L511.4,343.5 L518.2,215.8 L524.9,246.5 L531.6,298.9 L538.4,268.1 L545.1,154.2 L551.8,252.7 L558.6,269.6 L565.3,332.7 L572.1,295.8 L578.8,391.2 L585.5,386.6 L592.3,437.4 L599,426.6 L605.7,423.6 L612.5,392.7 L619.2,374.3 L625.9,431.2 L632.7,378.9 L639.4,414.3 L646.2,418.9 L652.9,414.3 L659.6,348.1 L666.4,371.2 L673.1,309.6 L679.8,386.6 L686.6,425.1 L693.3,397.4 L700,274.3 L706.8,175.8 L713.5,302 L720.3,334.2 L727,409.7 L733.7,446.6 L740.5,374.3 L747.2,346.5 L753.9,372.8 L760.7,432.7 L767.4,449.7 L774.2,231.1 L780.9,266.5 L787.6,438.9 L794.4,392.7 L801.1,400.5 L807.8,349.7 L814.6,397.4 L821.3,462 L828,384.5 L834.8,432.7 L841.5,365 L848.3,417.4 L855,417.4 L861.7,229.6 L868.5,369.6 L875.2,351.2 L881.9,406.6 L888.7,271.1 L895.4,258.8 L902.1,432.7 L908.9,383.5 L915.6,415.8 L922.4,442 L929.1,369.6 L935.8,351.2 L942.6,395.8 L949.3,217.3 L956,283.4 L962.8,457.4 L969.5,366.6 L976.2,305 L983,78.8 L989.7,423.6 L996.5,402 L1003.2,308.1 L1009.9,221.9 L1016.7,351.2 L1023.4,442 L1030.1,397.4 L1036.9,386.6 L1043.6,303.5 L1050.3,462 L1057.1,369.6 L1063.8,445.1 L1070.6,451.2 L1077.3,388.1 L1084,442 L1090.8,394.3 L1097.5,397.4 L1104.2,458.9 L1111,388.1 L1117.7,428.1 L1124.5,462 L1131.2,411.2 L1137.9,440.5 L1144.7,400.5 L1151.4,343.5 L1158.1,94.2 L1164.9,325 L1171.6,258.8 L1178.3,220.4 L1185.1,154.2 L1191.8,460.5 L1198.6,403.5 L1205.3,362 L1212,403.5 L1218.8,395.8 L1225.5,232.7 L1232.2,297.3 L1239,163.4 L1245.7,120.3 L1252.4,318.9 L1259.2,321.9 L1265.9,346.5 L1272.7,374.3 L1279.4,414.3 L1286.1,455.8 L1292.9,449.7 L1299.6,381.3" stroke="#fdfd58" stroke-width="5" fill="none" stroke-linejoin="miter" stroke-miterlimit="4"/><path d="M100.5,428.1 L107.2,326.6 L114,343.5 L120.7,460.5 L127.4,352.7 L134.2,374.3 L140.9,349.7 L147.7,378.9 L154.4,397.4 L161.1,258.8 L167.9,462 L174.6,278.9 L181.3,286.6 L188.1,462 L194.8,405.1 L201.5,446.6 L208.3,346.3 L215,274.3 L221.8,97.2 L228.5,405.1 L235.2,351.2 L242,331.2 L248.7,409.7 L255.4,368.1 L262.2,403.5 L268.9,363.5 L275.6,311.2 L282.4,342 L289.1,278.9 L295.9,335.8 L302.6,68 L309.3,448.2 L316.1,440.5 L322.8,417.4 L329.5,323.5 L336.3,377.4 L343,310.6 L349.8,455.8 L356.5,295.8 L363.2,287.1 L370,148.6 L376.7,273 L383.4,397.4 L390.2,442 L396.9,268.1 L403.6,400.5 L410.4,385.1 L417.1,366.6 L423.9,451.2 L430.6,355.8 L437.3,452.8 L444.1,268.1 L450.8,440.5 L457.5,392.7 L464.3,345 L471,292.7 L477.7,335.8 L484.5,412.8 L491.2,422 L498,372.8 L504.7,338.9 L511.4,343.5 L518.2,215.8 L524.9,246.5 L531.6,298.9 L538.4,268.1 L545.1,154.2 L551.8,252.7 L558.6,269.6 L565.3,332.7 L572.1,295.8 L578.8,391.2 L585.5,386.6 L592.3,437.4 L599,426.6 L605.7,423.6 L612.5,392.7 L619.2,374.3 L625.9,431.2 L632.7,378.9 L639.4,414.3 L646.2,418.9 L652.9,414.3 L659.6,348.1 L666.4,371.2 L673.1,309.6 L679.8,386.6 L686.6,425.1 L693.3,397.4 L700,274.3 L706.8,175.8 L713.5,302 L720.3,334.2 L727,409.7 L733.7,446.6 L740.5,374.3 L747.2,346.5 L753.9,372.8 L760.7,432.7 L767.4,449.7 L774.2,231.1 L780.9,266.5 L787.6,438.9 L794.4,392.7 L801.1,400.5 L807.8,349.7 L814.6,397.4 L821.3,462 L828,384.5 L834.8,432.7 L841.5,365 L848.3,417.4 L855,417.4 L861.7,229.6 L868.5,369.6 L875.2,351.2 L881.9,406.6 L888.7,271.1 L895.4,258.8 L902.1,432.7 L908.9,383.5 L915.6,415.8 L922.4,442 L929.1,369.6 L935.8,351.2 L942.6,395.8 L949.3,217.3 L956,283.4 L962.8,457.4 L969.5,366.6 L976.2,305 L983,78.8 L989.7,423.6 L996.5,402 L1003.2,308.1 L1009.9,221.9 L1016.7,351.2 L1023.4,442 L1030.1,397.4 L1036.9,386.6 L1043.6,303.5 L1050.3,462 L1057.1,369.6 L1063.8,445.1 L1070.6,451.2 L1077.3,388.1 L1084,442 L1090.8,394.3 L1097.5,397.4 L1104.2,458.9 L1111,388.1 L1117.7,428.1 L1124.5,462 L1131.2,411.2 L1137.9,440.5 L1144.7,400.5 L1151.4,343.5 L1158.1,94.2 L1164.9,325 L1171.6,258.8 L1178.3,220.4 L1185.1,154.2 L1191.8,460.5 L1198.6,403.5 L1205.3,362 L1212,403.5 L1218.8,395.8 L1225.5,232.7 L1232.2,297.3 L1239,163.4 L1245.7,120.3 L1252.4,318.9 L1259.2,321.9 L1265.9,346.5 L1272.7,374.3 L1279.4,414.3 L1286.1,455.8 L1292.9,449.7 L1299.6,381.3 L1299.6,485.4 L100.5,485.4 Z" fill="rgba(139,139,60,0.216)" stroke="none"/></g><path d="M88.5,67H98.5V485.4H1307.7V495.4" stroke="#fff" stroke-width="2" fill="none"/><path d="M98.5,485.4V497.4M88.5,485.4H98.5" stroke="#fff" stroke-width="2" fill="none"/><g fill="#fff" stroke="#fff" stroke-width="0.55" font-family="Liberation Sans" font-size="20"><text x="82.5" y="492.4" text-anchor="end">0.0</text><text x="82.5" y="457.6" text-anchor="end">500</text><text x="82.5" y="422.8" text-anchor="end">1.0k</text><text x="82.5" y="388" text-anchor="end">1.5k</text><text x="82.5" y="353.3" text-anchor="end">2.0k</text><text x="82.5" y="318.5" text-anchor="end">2.5k</text><text x="82.5" y="283.7" text-anchor="end">3.0k</text><text x="82.5" y="248.9" text-anchor="end">3.5k</text><text x="82.5" y="214.1" text-anchor="end">4.0k</text><text x="82.5" y="179.3" text-anchor="end">4.5k</text><text x="82.5" y="144.6" text-anchor="end">5.0k</text><text x="82.5" y="109.8" text-anchor="end">5.5k</text><text x="82.5" y="75" text-anchor="end">6.0k</text><text x="191.9" y="509.4" text-anchor="middle">16:57:15</text><text x="292.6" y="509.4" text-anchor="middle">16:57:30</text><text x="393.3" y="509.4" text-anchor="middle">16:57:45</text><text x="494" y="509.4" text-anchor="middle">16:58:00</text><text x="594.7" y="509.4" text-anchor="middle">16:58:15</text><text x="695.4" y="509.4" text-anchor="middle">16:58:30</text><text x="796.1" y="509.4" text-anchor="middle">16:58:45</text><text x="896.8" y="509.4" text-anchor="middle">16:59:00</text><text x="997.5" y="509.4" text-anchor="middle">16:59:15</text><text x="1098.2" y="509.4" text-anchor="middle">16:59:30</text><text x="1198.9" y="509.4" text-anchor="middle">16:59:45</text><text x="1299.6" y="509.4" text-anchor="middle">17:00:00</text></g><text x="462" y="45.5" fill="#fff" stroke="#fff" stroke-width="0.6" font-family="Liberation Sans" font-size="47">Latency (Aggregate)</text><rect x="835" y="10.5" width="492" height="48" fill="none" stroke="#fff" stroke-width="2"/><rect x="858" y="30" width="35.5" height="5" fill="#b3d3e0"/><text x="903" y="44" fill="#fff" stroke="#fff" stroke-width="0.6" font-family="Liberation Sans" font-size="32">Min</text><rect x="1022.6" y="30" width="35.5" height="5" fill="#f7f24e"/><text x="1067.6" y="44" fill="#fff" stroke="#fff" stroke-width="0.6" font-family="Liberation Sans" font-size="32">Avg</text><rect x="1187.2" y="30" width="35.5" height="5" fill="#e5372a"/><text x="1232.2" y="44" fill="#8a8a8a" stroke="#8a8a8a" stroke-width="0.6" font-family="Liberation Sans" font-size="32">Max</text><text transform="translate(30,382) rotate(-90)" text-anchor="middle" fill="#fff" stroke="#fff" stroke-width="0.6" font-family="Liberation Sans" font-size="32">Latency (ms)</text></svg></div>
</div></body></html>
